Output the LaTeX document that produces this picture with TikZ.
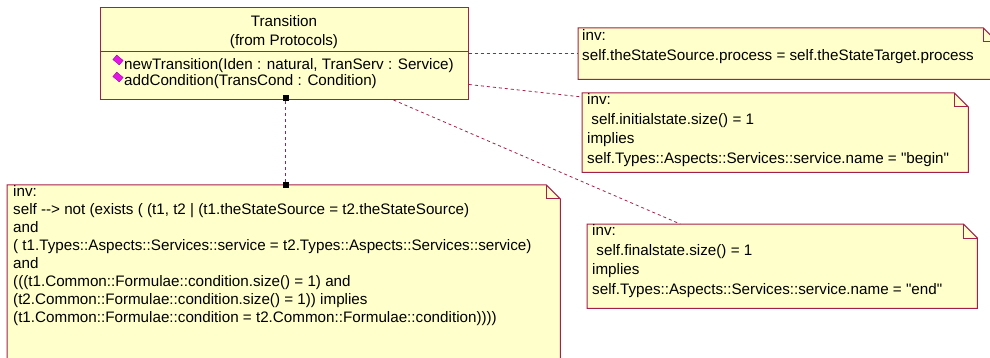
\documentclass[tikz,border=0pt]{standalone}
\usepackage{fontspec}
\setmainfont{Liberation Sans}[Ligatures=TeXOff]

\definecolor{noteyellow}{RGB}{255,255,204}
\definecolor{umlred}{RGB}{165,32,72}
\definecolor{opmagenta}{RGB}{230,20,230}
\definecolor{opdark}{RGB}{110,0,110}

\begin{document}
\begin{tikzpicture}[
	x=1pt, y=-1pt,
	every node/.style={ font=\fontsize{15.2}{18}\selectfont },
	umlbox/.style={ draw=umlred, fill=noteyellow, line width=1pt, inner sep=0pt, anchor=north west },
	notebox/.style={ inner sep=0pt, anchor=north west },
	notetext/.style={ inner sep=0pt, anchor=north west, align=left },
	notetextr/.style={ notetext, font=\fontsize{15.2}{19.5}\selectfont },
	optext/.style={ inner sep=0pt, anchor=west },
	opicon/.style={ draw=opdark, fill=opmagenta, very thin, inner sep=0pt, minimum width=8.5pt, minimum height=6pt, rotate=-40 },
	endsq/.style={ fill=black, inner sep=0pt, minimum size=6pt },
	conn/.style={ umlred, line width=0.8pt, dash pattern=on 3pt off 3pt }
]

\fill[white] (0,0) rectangle (990,358);
\useasboundingbox (0,0) rectangle (990,358);
\clip (0,0) rectangle (990,358);

% class box
\node[umlbox, minimum width=368pt, minimum height=92pt] (cls) at (100,7) {};
\draw[umlred, line width=1pt] (cls.west |- 0,52) -- (cls.east |- 0,52);
\node (clsname) at (284,21) {Transition};
\node (clspkg) at (284,42) {(from Protocols)};
\node[opicon] (ic1) at (118,60) {};
\node[opicon] (ic2) at (118,77) {};
\node[optext] (op1) at (124,66) {newTransition(Iden : natural, TranServ : Service)};
\node[optext] (op2) at (124,82) {addCondition(TransCond : Condition)};

% notes
\node[notebox, minimum width=419pt, minimum height=51pt] (inv1) at (578,28) {};
\node[notebox, minimum width=386pt, minimum height=79pt] (inv2) at (582,93) {};
\node[notebox, minimum width=390pt, minimum height=84pt] (inv3) at (587,224) {};
\node[notebox, minimum width=553pt, minimum height=190pt] (inv4) at (7,185) {};
\foreach \n in {inv1,inv2,inv3,inv4} {
	\draw[umlred, fill=noteyellow, line width=1pt] (\n.north west) -- ([xshift=-14pt]\n.north east) -- ([yshift=-14pt]\n.north east) -- (\n.south east) -- (\n.south west) -- cycle;
	\draw[umlred, line width=1pt] ([xshift=-14pt]\n.north east) |- ([yshift=-14pt]\n.north east);
}

\node[notetextr] (inv1txt) at ([shift={(4,-1)}]inv1.north west) {\strut inv:\\
self.theStateSource.process = self.theStateTarget.process};
\node[notetextr] (inv2txt) at ([shift={(5,-2)}]inv2.north west) {\strut inv:\\
\hspace*{0.28em}self.initialstate.size() = 1\\
implies\\
self.Types::Aspects::Services::service.name = "begin"};
\node[notetextr] (inv3txt) at ([shift={(5,-2)}]inv3.north west) {\strut inv:\\
\hspace*{0.28em}self.finalstate.size() = 1\\
implies\\
self.Types::Aspects::Services::service.name = "end"};
\node[notetext] (inv4txt) at ([shift={(6,-1)}]inv4.north west) {\strut inv:\\
self -{}-> not (exists ( (t1, t2 | (t1.theStateSource = t2.theStateSource)\\
and\\
( t1.Types::Aspects::Services::service = t2.Types::Aspects::Services::service)\\
and\\
(((t1.Common::Formulae::condition.size() = 1) and\\
(t2.Common::Formulae::condition.size() = 1)) implies\\
(t1.Common::Formulae::condition = t2.Common::Formulae::condition))))};

% connectors
\draw[conn] (cls.east) -- (cls.east -| inv1.west);
\draw[conn] ([shift={(0,31)}]cls.east) -- ([shift={(0,4)}]inv2.north west);
\draw[conn] ([shift={(109,0)}]cls.south) -- ([shift={(-102,0)}]inv3.north);
\node[endsq] (sqtop) at ([shift={(1,-2)}]cls.south) {};
\node[endsq] (sqbot) at (sqtop |- inv4.north) {};
\draw[conn] (sqtop) -- (sqbot);

\end{tikzpicture}
\end{document}
